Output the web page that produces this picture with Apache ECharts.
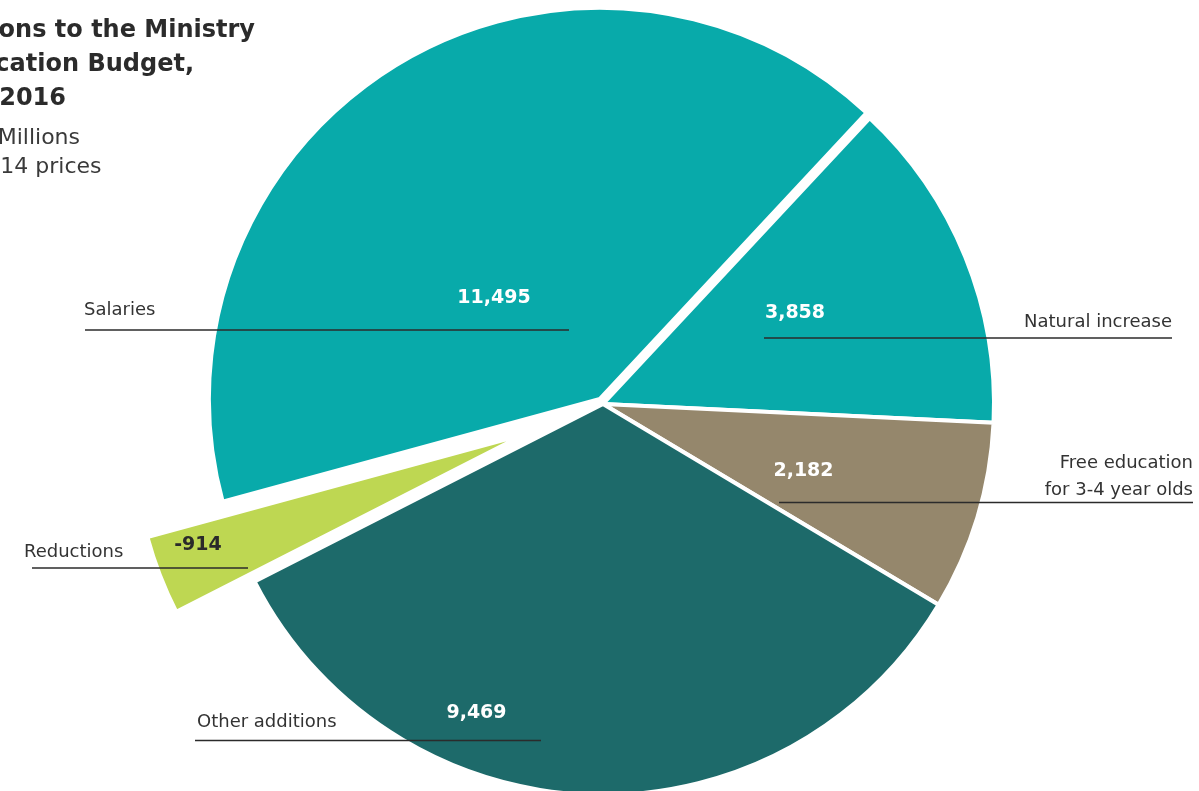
<!DOCTYPE html>
<html>
<head>
<meta charset="utf-8">
<title>Additions to the Ministry of Education Budget</title>
<script src="https://cdn.jsdelivr.net/npm/echarts@6/dist/echarts.min.js"></script>
<style>
  html, body { margin: 0; padding: 0; background: #ffffff; }
  #chart { width: 1199px; height: 791px; }
</style>
</head>
<body>
<div id="chart"></div>
<script>
// Budget components, NIS millions in 2014 prices (clockwise order from the top right)
const categories = ['Natural increase', 'Free education\nfor 3-4 year olds', 'Other additions', 'Reductions', 'Salaries'];
const values = [3858, 2182, 9469, -914, 11495];

// Title lines
const titleLines = ['Additions to the Ministry', 'of Education Budget,', '2014\u20132016'];
const subtitleLines = ['NIS Millions', 'in 2014 prices'];

// Styling
const palette = ['#08aaaa', '#95876c', '#1d6a6a', '#bed752', '#08aaaa'];
const valueColors = ['#ffffff', '#ffffff', '#ffffff', '#2a2a2a', '#ffffff'];
const FONT = 'DejaVu Sans';
const INK = '#2b2b2b';
const CENTER = [603, 404];
const RADIUS = 391;
const START_ANGLE = 47;
const REDUCTIONS = 3;
const SALARIES = 4;

// Title placement: right edge and top of each line
const titleSpots = [[255, 13.25], [194, 48], [66, 81.5]];
const subtitleSpots = [[80, 123], [101.5, 152.5]];

// Label placement: value figures and underlined category names
const valueSpots = [[795, 313], [803.5, 471], [476.5, 713], [198, 545], [494, 298.5]];
const nameSpots = [
  { x: 1172, y: 322, align: 'right', line: [764, 1172, 338] },
  { x: 1193, y: 476.5, align: 'right', line: [779, 1193, 502.5] },
  { x: 197, y: 722, align: 'left', line: [195, 541, 740.5] },
  { x: 24, y: 552.5, align: 'left', line: [32, 248, 568] },
  { x: 84, y: 310, align: 'left', line: [85, 569, 330] }
];

const fmt = v => v.toLocaleString('en-US');
const total = values.reduce((s, v) => s + Math.abs(v), 0);

// Mid angle of slice i (degrees, counter-clockwise from 3 o'clock)
function midAngle(i) {
  let before = 0;
  for (let k = 0; k < i; k++) before += Math.abs(values[k]);
  return START_ANGLE - (before + Math.abs(values[i]) / 2) / total * 360;
}

// Pie centre pushed outward along a slice's bisector
function explodedCenter(i, dist) {
  const a = midAngle(i) * Math.PI / 180;
  return [CENTER[0] + dist * Math.cos(a), CENTER[1] - dist * Math.sin(a)];
}

// Builds the slice list; slices not in `shown` keep their angle but are not painted
function slices(shown) {
  return categories.map((name, i) => {
    const visible = shown.includes(i);
    return {
      name: name,
      value: Math.abs(values[i]),
      itemStyle: visible
        ? { color: palette[i], borderColor: '#ffffff', borderWidth: 4 }
        : { opacity: 0 },
      label: { show: visible, color: valueColors[i] }
    };
  });
}

const valueLabel = {
  show: true,
  position: 'inside',
  fontFamily: FONT,
  fontWeight: 'bold',
  fontSize: 19,
  formatter: p => fmt(values[p.dataIndex])
};

const valueLayout = p => ({
  x: valueSpots[p.dataIndex][0],
  y: valueSpots[p.dataIndex][1],
  align: 'center',
  verticalAlign: 'middle'
});

const pieBase = {
  type: 'pie',
  radius: [0, RADIUS],
  startAngle: START_ANGLE,
  clockwise: true,
  avoidLabelOverlap: false,
  selectedMode: false,
  emphasis: { disabled: true },
  labelLine: { show: false }
};

function valueSeries(name, shown, center) {
  return Object.assign({}, pieBase, {
    name: name,
    center: center,
    data: slices(shown),
    label: valueLabel,
    labelLayout: valueLayout
  });
}

const titles = titleLines.map((t, i) => ({
  text: t,
  right: 1199 - titleSpots[i][0],
  top: titleSpots[i][1],
  padding: 0,
  textStyle: { fontFamily: FONT, fontWeight: 'bold', fontSize: 24, lineHeight: 34.5, color: INK }
})).concat(subtitleLines.map((t, i) => ({
  text: t,
  right: 1199 - subtitleSpots[i][0],
  top: subtitleSpots[i][1],
  padding: 0,
  textStyle: { fontFamily: FONT, fontWeight: 'normal', fontSize: 22, lineHeight: 30, color: '#3a3a3a' }
})));

const chart = echarts.init(document.getElementById('chart'), null, { renderer: 'canvas' });

chart.setOption({
  animation: false,
  backgroundColor: '#ffffff',
  title: titles,
  series: [
    valueSeries('Additions', [0, 1, 2], CENTER),
    valueSeries('Salaries', [SALARIES], explodedCenter(SALARIES, 6)),
    valueSeries('Reductions', [REDUCTIONS], explodedCenter(REDUCTIONS, 84)),
    Object.assign({}, pieBase, {
      name: 'Categories',
      z: 3,
      silent: true,
      center: CENTER,
      data: categories.map((name, i) => ({ name: name, value: Math.abs(values[i]) })),
      itemStyle: { color: 'rgba(0,0,0,0)', borderWidth: 0 },
      label: {
        show: true,
        position: 'outside',
        alignTo: 'none',
        overflow: 'none',
        fontFamily: FONT,
        fontSize: 18,
        lineHeight: 27,
        color: '#333333',
        formatter: p => p.name
      },
      labelLine: { show: true, smooth: false, lineStyle: { color: INK, width: 1.5 } },
      labelLayout: p => {
        const s = nameSpots[p.dataIndex];
        const [x1, x2, ly] = s.line;
        return {
          x: s.x,
          y: s.y,
          align: s.align,
          verticalAlign: 'middle',
          labelLinePoints: [[x1, ly], [(x1 + x2) / 2, ly], [x2, ly]]
        };
      }
    })
  ]
});
</script>
</body>
</html>
